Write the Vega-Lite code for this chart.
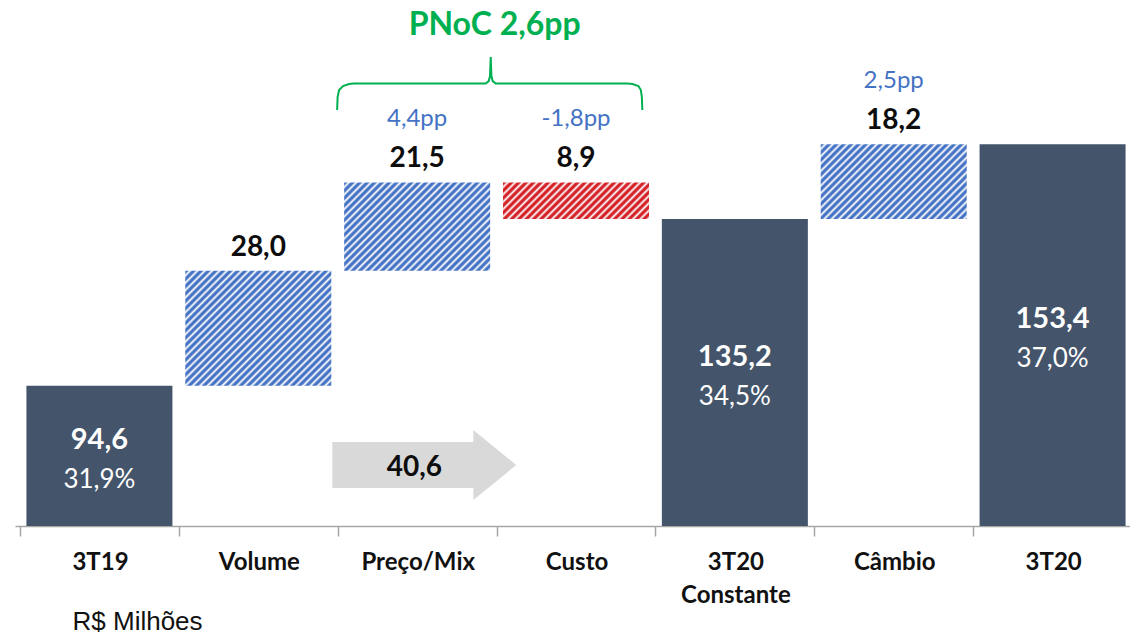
{
"$schema": "https://vega.github.io/schema/vega-lite/v6.json",
"width": 1122, "height": 526,
"autosize": {"type": "none"},
"padding": {"left": 15, "top": 0, "right": 0, "bottom": 109},
"background": "white",
"config": {"view": {"stroke": null}, "font": "Lato"},
"datasets": {
"bars": [
{"idx": 0, "cat": "3T19", "lo": 0, "hi": 94.6, "type": "total", "label": "94,6", "pct": "31,9%"},
{"idx": 1, "cat": "Volume", "lo": 94.6, "hi": 122.6, "type": "up", "label": "28,0", "pp": ""},
{"idx": 2, "cat": "Preço/Mix", "lo": 122.6, "hi": 144.1, "type": "up", "label": "21,5", "pp": "4,4pp"},
{"idx": 3, "cat": "Custo", "lo": 135.2, "hi": 144.1, "type": "down", "label": "8,9", "pp": "-1,8pp"},
{"idx": 4, "cat": "3T20 Constante", "lo": 0, "hi": 135.2, "type": "total", "label": "135,2", "pct": "34,5%"},
{"idx": 5, "cat": "Câmbio", "lo": 135.2, "hi": 153.4, "type": "up", "label": "18,2", "pp": "2,5pp"},
{"idx": 6, "cat": "3T20", "lo": 0, "hi": 153.4, "type": "total", "label": "153,4", "pct": "37,0%"}
],
"brace": [
{"x":1.4963,"y":161.72},{"x":1.4994,"y":164.88},{"x":1.5087,"y":166.58},{"x":1.5337,"y":167.56},{"x":1.5711,"y":168.04},{"x":1.6023,"y":168.17},{"x":2.432,"y":168.17},{"x":2.4507,"y":168.77},{"x":2.4588,"y":169.99},{"x":2.4632,"y":174.61},{"x":2.4675,"y":169.99},{"x":2.4757,"y":168.77},{"x":2.4944,"y":168.17},{"x":3.3241,"y":168.17},{"x":3.3553,"y":168.04},{"x":3.3927,"y":167.56},{"x":3.4083,"y":166.58},{"x":3.4145,"y":164.88},{"x":3.4177,"y":161.72}
],
"title": [{"t": "PNoC 2,6pp"}],
"arrow": [{"t": "40,6"}],
"unit": [{"t": "R$ Milhões"}]
},
"data": {"name": "bars"},
"resolve": {"scale": {"y": "independent"}},
"layer": [
{
"layer": [
{
"transform": [{"filter": "datum.type == 'total'"}],
"mark": {"type": "bar", "width": 146, "clip": true, "color": "#44546A"},
"encoding": {
"x": {"field": "idx", "type": "quantitative", "scale": {"domain": [-0.5, 6.5], "nice": false, "zero": false},
"axis": {"values": [-0.5, 0.5, 1.5, 2.5, 3.5, 4.5, 5.5, 6.5],
"labelExpr": "['3T19','Volume','Preço/Mix','Custo',['3T20','Constante'],'Câmbio','3T20',''][round(datum.value + 0.5)]",
"labelOffset": 80, "labelAlign": "center", "labelBaseline": "top", "labelPadding": 14,
"labelFont": "Lato", "labelFontSize": 24, "labelFontWeight": "bold", "labelColor": "#111111",
"labelLineHeight": 33, "labelOverlap": false, "labelFlush": false, "labelBound": false,
"tickSize": 10, "tickColor": "#A6A6A6", "tickWidth": 1.5,
"domainColor": "#A6A6A6", "domainWidth": 1.5, "grid": false, "title": null}},
"y": {"field": "hi", "type": "quantitative", "scale": {"domain": [60.5, 188.5], "nice": false, "zero": false}, "axis": null},
"y2": {"field": "lo"}
}
},
{
"transform": [{"filter": "datum.cat == 'Volume'"}],
"mark": {"type": "bar", "width": 146, "fill": {"gradient": "linear", "x1": 0, "y1": 0, "x2": 1.243, "y2": 0.9796, "stops": [{"offset":0,"color":"#4472C4"},{"offset":0.0075,"color":"#4472C4"},{"offset":0.01625,"color":"#fff"},{"offset":0.025,"color":"#4472C4"},{"offset":0.0325,"color":"#4472C4"},{"offset":0.04125,"color":"#fff"},{"offset":0.05,"color":"#4472C4"},{"offset":0.0575,"color":"#4472C4"},{"offset":0.06625,"color":"#fff"},{"offset":0.075,"color":"#4472C4"},{"offset":0.0825,"color":"#4472C4"},{"offset":0.09125,"color":"#fff"},{"offset":0.1,"color":"#4472C4"},{"offset":0.1075,"color":"#4472C4"},{"offset":0.11625,"color":"#fff"},{"offset":0.125,"color":"#4472C4"},{"offset":0.1325,"color":"#4472C4"},{"offset":0.14125,"color":"#fff"},{"offset":0.15,"color":"#4472C4"},{"offset":0.1575,"color":"#4472C4"},{"offset":0.16625,"color":"#fff"},{"offset":0.175,"color":"#4472C4"},{"offset":0.1825,"color":"#4472C4"},{"offset":0.19125,"color":"#fff"},{"offset":0.2,"color":"#4472C4"},{"offset":0.2075,"color":"#4472C4"},{"offset":0.21625,"color":"#fff"},{"offset":0.225,"color":"#4472C4"},{"offset":0.2325,"color":"#4472C4"},{"offset":0.24125,"color":"#fff"},{"offset":0.25,"color":"#4472C4"},{"offset":0.2575,"color":"#4472C4"},{"offset":0.26625,"color":"#fff"},{"offset":0.275,"color":"#4472C4"},{"offset":0.2825,"color":"#4472C4"},{"offset":0.29125,"color":"#fff"},{"offset":0.3,"color":"#4472C4"},{"offset":0.3075,"color":"#4472C4"},{"offset":0.31625,"color":"#fff"},{"offset":0.325,"color":"#4472C4"},{"offset":0.3325,"color":"#4472C4"},{"offset":0.34125,"color":"#fff"},{"offset":0.35,"color":"#4472C4"},{"offset":0.3575,"color":"#4472C4"},{"offset":0.36625,"color":"#fff"},{"offset":0.375,"color":"#4472C4"},{"offset":0.3825,"color":"#4472C4"},{"offset":0.39125,"color":"#fff"},{"offset":0.4,"color":"#4472C4"},{"offset":0.4075,"color":"#4472C4"},{"offset":0.41625,"color":"#fff"},{"offset":0.425,"color":"#4472C4"},{"offset":0.4325,"color":"#4472C4"},{"offset":0.44125,"color":"#fff"},{"offset":0.45,"color":"#4472C4"},{"offset":0.4575,"color":"#4472C4"},{"offset":0.46625,"color":"#fff"},{"offset":0.475,"color":"#4472C4"},{"offset":0.4825,"color":"#4472C4"},{"offset":0.49125,"color":"#fff"},{"offset":0.5,"color":"#4472C4"},{"offset":0.5075,"color":"#4472C4"},{"offset":0.51625,"color":"#fff"},{"offset":0.525,"color":"#4472C4"},{"offset":0.5325,"color":"#4472C4"},{"offset":0.54125,"color":"#fff"},{"offset":0.55,"color":"#4472C4"},{"offset":0.5575,"color":"#4472C4"},{"offset":0.56625,"color":"#fff"},{"offset":0.575,"color":"#4472C4"},{"offset":0.5825,"color":"#4472C4"},{"offset":0.59125,"color":"#fff"},{"offset":0.6,"color":"#4472C4"},{"offset":0.6075,"color":"#4472C4"},{"offset":0.61625,"color":"#fff"},{"offset":0.625,"color":"#4472C4"},{"offset":0.6325,"color":"#4472C4"},{"offset":0.64125,"color":"#fff"},{"offset":0.65,"color":"#4472C4"},{"offset":0.6575,"color":"#4472C4"},{"offset":0.66625,"color":"#fff"},{"offset":0.675,"color":"#4472C4"},{"offset":0.6825,"color":"#4472C4"},{"offset":0.69125,"color":"#fff"},{"offset":0.7,"color":"#4472C4"},{"offset":0.7075,"color":"#4472C4"},{"offset":0.71625,"color":"#fff"},{"offset":0.725,"color":"#4472C4"},{"offset":0.7325,"color":"#4472C4"},{"offset":0.74125,"color":"#fff"},{"offset":0.75,"color":"#4472C4"},{"offset":0.7575,"color":"#4472C4"},{"offset":0.76625,"color":"#fff"},{"offset":0.775,"color":"#4472C4"},{"offset":0.7825,"color":"#4472C4"},{"offset":0.79125,"color":"#fff"},{"offset":0.8,"color":"#4472C4"},{"offset":0.8075,"color":"#4472C4"},{"offset":0.81625,"color":"#fff"},{"offset":0.825,"color":"#4472C4"},{"offset":0.8325,"color":"#4472C4"},{"offset":0.84125,"color":"#fff"},{"offset":0.85,"color":"#4472C4"},{"offset":0.8575,"color":"#4472C4"},{"offset":0.86625,"color":"#fff"},{"offset":0.875,"color":"#4472C4"},{"offset":0.8825,"color":"#4472C4"},{"offset":0.89125,"color":"#fff"},{"offset":0.9,"color":"#4472C4"},{"offset":0.9075,"color":"#4472C4"},{"offset":0.91625,"color":"#fff"},{"offset":0.925,"color":"#4472C4"},{"offset":0.9325,"color":"#4472C4"},{"offset":0.94125,"color":"#fff"},{"offset":0.95,"color":"#4472C4"},{"offset":0.9575,"color":"#4472C4"},{"offset":0.96625,"color":"#fff"},{"offset":0.975,"color":"#4472C4"},{"offset":0.9825,"color":"#4472C4"},{"offset":0.99125,"color":"#fff"},{"offset":1,"color":"#4472C4"}]}},
"encoding": {"x": {"field": "idx", "type": "quantitative"}, "y": {"field": "hi", "type": "quantitative"}, "y2": {"field": "lo"}}
},
{
"transform": [{"filter": "datum.cat == 'Preço/Mix'"}],
"mark": {"type": "bar", "width": 146, "fill": {"gradient": "linear", "x1": 0, "y1": 0, "x2": 1.4749, "y2": 0.8925, "stops": [{"offset":0,"color":"#4472C4"},{"offset":0.0075,"color":"#4472C4"},{"offset":0.01625,"color":"#fff"},{"offset":0.025,"color":"#4472C4"},{"offset":0.0325,"color":"#4472C4"},{"offset":0.04125,"color":"#fff"},{"offset":0.05,"color":"#4472C4"},{"offset":0.0575,"color":"#4472C4"},{"offset":0.06625,"color":"#fff"},{"offset":0.075,"color":"#4472C4"},{"offset":0.0825,"color":"#4472C4"},{"offset":0.09125,"color":"#fff"},{"offset":0.1,"color":"#4472C4"},{"offset":0.1075,"color":"#4472C4"},{"offset":0.11625,"color":"#fff"},{"offset":0.125,"color":"#4472C4"},{"offset":0.1325,"color":"#4472C4"},{"offset":0.14125,"color":"#fff"},{"offset":0.15,"color":"#4472C4"},{"offset":0.1575,"color":"#4472C4"},{"offset":0.16625,"color":"#fff"},{"offset":0.175,"color":"#4472C4"},{"offset":0.1825,"color":"#4472C4"},{"offset":0.19125,"color":"#fff"},{"offset":0.2,"color":"#4472C4"},{"offset":0.2075,"color":"#4472C4"},{"offset":0.21625,"color":"#fff"},{"offset":0.225,"color":"#4472C4"},{"offset":0.2325,"color":"#4472C4"},{"offset":0.24125,"color":"#fff"},{"offset":0.25,"color":"#4472C4"},{"offset":0.2575,"color":"#4472C4"},{"offset":0.26625,"color":"#fff"},{"offset":0.275,"color":"#4472C4"},{"offset":0.2825,"color":"#4472C4"},{"offset":0.29125,"color":"#fff"},{"offset":0.3,"color":"#4472C4"},{"offset":0.3075,"color":"#4472C4"},{"offset":0.31625,"color":"#fff"},{"offset":0.325,"color":"#4472C4"},{"offset":0.3325,"color":"#4472C4"},{"offset":0.34125,"color":"#fff"},{"offset":0.35,"color":"#4472C4"},{"offset":0.3575,"color":"#4472C4"},{"offset":0.36625,"color":"#fff"},{"offset":0.375,"color":"#4472C4"},{"offset":0.3825,"color":"#4472C4"},{"offset":0.39125,"color":"#fff"},{"offset":0.4,"color":"#4472C4"},{"offset":0.4075,"color":"#4472C4"},{"offset":0.41625,"color":"#fff"},{"offset":0.425,"color":"#4472C4"},{"offset":0.4325,"color":"#4472C4"},{"offset":0.44125,"color":"#fff"},{"offset":0.45,"color":"#4472C4"},{"offset":0.4575,"color":"#4472C4"},{"offset":0.46625,"color":"#fff"},{"offset":0.475,"color":"#4472C4"},{"offset":0.4825,"color":"#4472C4"},{"offset":0.49125,"color":"#fff"},{"offset":0.5,"color":"#4472C4"},{"offset":0.5075,"color":"#4472C4"},{"offset":0.51625,"color":"#fff"},{"offset":0.525,"color":"#4472C4"},{"offset":0.5325,"color":"#4472C4"},{"offset":0.54125,"color":"#fff"},{"offset":0.55,"color":"#4472C4"},{"offset":0.5575,"color":"#4472C4"},{"offset":0.56625,"color":"#fff"},{"offset":0.575,"color":"#4472C4"},{"offset":0.5825,"color":"#4472C4"},{"offset":0.59125,"color":"#fff"},{"offset":0.6,"color":"#4472C4"},{"offset":0.6075,"color":"#4472C4"},{"offset":0.61625,"color":"#fff"},{"offset":0.625,"color":"#4472C4"},{"offset":0.6325,"color":"#4472C4"},{"offset":0.64125,"color":"#fff"},{"offset":0.65,"color":"#4472C4"},{"offset":0.6575,"color":"#4472C4"},{"offset":0.66625,"color":"#fff"},{"offset":0.675,"color":"#4472C4"},{"offset":0.6825,"color":"#4472C4"},{"offset":0.69125,"color":"#fff"},{"offset":0.7,"color":"#4472C4"},{"offset":0.7075,"color":"#4472C4"},{"offset":0.71625,"color":"#fff"},{"offset":0.725,"color":"#4472C4"},{"offset":0.7325,"color":"#4472C4"},{"offset":0.74125,"color":"#fff"},{"offset":0.75,"color":"#4472C4"},{"offset":0.7575,"color":"#4472C4"},{"offset":0.76625,"color":"#fff"},{"offset":0.775,"color":"#4472C4"},{"offset":0.7825,"color":"#4472C4"},{"offset":0.79125,"color":"#fff"},{"offset":0.8,"color":"#4472C4"},{"offset":0.8075,"color":"#4472C4"},{"offset":0.81625,"color":"#fff"},{"offset":0.825,"color":"#4472C4"},{"offset":0.8325,"color":"#4472C4"},{"offset":0.84125,"color":"#fff"},{"offset":0.85,"color":"#4472C4"},{"offset":0.8575,"color":"#4472C4"},{"offset":0.86625,"color":"#fff"},{"offset":0.875,"color":"#4472C4"},{"offset":0.8825,"color":"#4472C4"},{"offset":0.89125,"color":"#fff"},{"offset":0.9,"color":"#4472C4"},{"offset":0.9075,"color":"#4472C4"},{"offset":0.91625,"color":"#fff"},{"offset":0.925,"color":"#4472C4"},{"offset":0.9325,"color":"#4472C4"},{"offset":0.94125,"color":"#fff"},{"offset":0.95,"color":"#4472C4"},{"offset":0.9575,"color":"#4472C4"},{"offset":0.96625,"color":"#fff"},{"offset":0.975,"color":"#4472C4"},{"offset":0.9825,"color":"#4472C4"},{"offset":0.99125,"color":"#fff"},{"offset":1,"color":"#4472C4"}]}},
"encoding": {"x": {"field": "idx", "type": "quantitative"}, "y": {"field": "hi", "type": "quantitative"}, "y2": {"field": "lo"}}
},
{
"transform": [{"filter": "datum.cat == 'Custo'"}],
"mark": {"type": "bar", "width": 146, "fill": {"gradient": "linear", "x1": 0, "y1": 0, "x2": 1.8961, "y2": 0.4749, "stops": [{"offset":0,"color":"#D42027"},{"offset":0.0075,"color":"#D42027"},{"offset":0.01625,"color":"#fff"},{"offset":0.025,"color":"#D42027"},{"offset":0.0325,"color":"#D42027"},{"offset":0.04125,"color":"#fff"},{"offset":0.05,"color":"#D42027"},{"offset":0.0575,"color":"#D42027"},{"offset":0.06625,"color":"#fff"},{"offset":0.075,"color":"#D42027"},{"offset":0.0825,"color":"#D42027"},{"offset":0.09125,"color":"#fff"},{"offset":0.1,"color":"#D42027"},{"offset":0.1075,"color":"#D42027"},{"offset":0.11625,"color":"#fff"},{"offset":0.125,"color":"#D42027"},{"offset":0.1325,"color":"#D42027"},{"offset":0.14125,"color":"#fff"},{"offset":0.15,"color":"#D42027"},{"offset":0.1575,"color":"#D42027"},{"offset":0.16625,"color":"#fff"},{"offset":0.175,"color":"#D42027"},{"offset":0.1825,"color":"#D42027"},{"offset":0.19125,"color":"#fff"},{"offset":0.2,"color":"#D42027"},{"offset":0.2075,"color":"#D42027"},{"offset":0.21625,"color":"#fff"},{"offset":0.225,"color":"#D42027"},{"offset":0.2325,"color":"#D42027"},{"offset":0.24125,"color":"#fff"},{"offset":0.25,"color":"#D42027"},{"offset":0.2575,"color":"#D42027"},{"offset":0.26625,"color":"#fff"},{"offset":0.275,"color":"#D42027"},{"offset":0.2825,"color":"#D42027"},{"offset":0.29125,"color":"#fff"},{"offset":0.3,"color":"#D42027"},{"offset":0.3075,"color":"#D42027"},{"offset":0.31625,"color":"#fff"},{"offset":0.325,"color":"#D42027"},{"offset":0.3325,"color":"#D42027"},{"offset":0.34125,"color":"#fff"},{"offset":0.35,"color":"#D42027"},{"offset":0.3575,"color":"#D42027"},{"offset":0.36625,"color":"#fff"},{"offset":0.375,"color":"#D42027"},{"offset":0.3825,"color":"#D42027"},{"offset":0.39125,"color":"#fff"},{"offset":0.4,"color":"#D42027"},{"offset":0.4075,"color":"#D42027"},{"offset":0.41625,"color":"#fff"},{"offset":0.425,"color":"#D42027"},{"offset":0.4325,"color":"#D42027"},{"offset":0.44125,"color":"#fff"},{"offset":0.45,"color":"#D42027"},{"offset":0.4575,"color":"#D42027"},{"offset":0.46625,"color":"#fff"},{"offset":0.475,"color":"#D42027"},{"offset":0.4825,"color":"#D42027"},{"offset":0.49125,"color":"#fff"},{"offset":0.5,"color":"#D42027"},{"offset":0.5075,"color":"#D42027"},{"offset":0.51625,"color":"#fff"},{"offset":0.525,"color":"#D42027"},{"offset":0.5325,"color":"#D42027"},{"offset":0.54125,"color":"#fff"},{"offset":0.55,"color":"#D42027"},{"offset":0.5575,"color":"#D42027"},{"offset":0.56625,"color":"#fff"},{"offset":0.575,"color":"#D42027"},{"offset":0.5825,"color":"#D42027"},{"offset":0.59125,"color":"#fff"},{"offset":0.6,"color":"#D42027"},{"offset":0.6075,"color":"#D42027"},{"offset":0.61625,"color":"#fff"},{"offset":0.625,"color":"#D42027"},{"offset":0.6325,"color":"#D42027"},{"offset":0.64125,"color":"#fff"},{"offset":0.65,"color":"#D42027"},{"offset":0.6575,"color":"#D42027"},{"offset":0.66625,"color":"#fff"},{"offset":0.675,"color":"#D42027"},{"offset":0.6825,"color":"#D42027"},{"offset":0.69125,"color":"#fff"},{"offset":0.7,"color":"#D42027"},{"offset":0.7075,"color":"#D42027"},{"offset":0.71625,"color":"#fff"},{"offset":0.725,"color":"#D42027"},{"offset":0.7325,"color":"#D42027"},{"offset":0.74125,"color":"#fff"},{"offset":0.75,"color":"#D42027"},{"offset":0.7575,"color":"#D42027"},{"offset":0.76625,"color":"#fff"},{"offset":0.775,"color":"#D42027"},{"offset":0.7825,"color":"#D42027"},{"offset":0.79125,"color":"#fff"},{"offset":0.8,"color":"#D42027"},{"offset":0.8075,"color":"#D42027"},{"offset":0.81625,"color":"#fff"},{"offset":0.825,"color":"#D42027"},{"offset":0.8325,"color":"#D42027"},{"offset":0.84125,"color":"#fff"},{"offset":0.85,"color":"#D42027"},{"offset":0.8575,"color":"#D42027"},{"offset":0.86625,"color":"#fff"},{"offset":0.875,"color":"#D42027"},{"offset":0.8825,"color":"#D42027"},{"offset":0.89125,"color":"#fff"},{"offset":0.9,"color":"#D42027"},{"offset":0.9075,"color":"#D42027"},{"offset":0.91625,"color":"#fff"},{"offset":0.925,"color":"#D42027"},{"offset":0.9325,"color":"#D42027"},{"offset":0.94125,"color":"#fff"},{"offset":0.95,"color":"#D42027"},{"offset":0.9575,"color":"#D42027"},{"offset":0.96625,"color":"#fff"},{"offset":0.975,"color":"#D42027"},{"offset":0.9825,"color":"#D42027"},{"offset":0.99125,"color":"#fff"},{"offset":1,"color":"#D42027"}]}},
"encoding": {"x": {"field": "idx", "type": "quantitative"}, "y": {"field": "hi", "type": "quantitative"}, "y2": {"field": "lo"}}
},
{
"transform": [{"filter": "datum.cat == 'Câmbio'"}],
"mark": {"type": "bar", "width": 146, "fill": {"gradient": "linear", "x1": 0, "y1": 0, "x2": 1.5962, "y2": 0.8177, "stops": [{"offset":0,"color":"#4472C4"},{"offset":0.0075,"color":"#4472C4"},{"offset":0.01625,"color":"#fff"},{"offset":0.025,"color":"#4472C4"},{"offset":0.0325,"color":"#4472C4"},{"offset":0.04125,"color":"#fff"},{"offset":0.05,"color":"#4472C4"},{"offset":0.0575,"color":"#4472C4"},{"offset":0.06625,"color":"#fff"},{"offset":0.075,"color":"#4472C4"},{"offset":0.0825,"color":"#4472C4"},{"offset":0.09125,"color":"#fff"},{"offset":0.1,"color":"#4472C4"},{"offset":0.1075,"color":"#4472C4"},{"offset":0.11625,"color":"#fff"},{"offset":0.125,"color":"#4472C4"},{"offset":0.1325,"color":"#4472C4"},{"offset":0.14125,"color":"#fff"},{"offset":0.15,"color":"#4472C4"},{"offset":0.1575,"color":"#4472C4"},{"offset":0.16625,"color":"#fff"},{"offset":0.175,"color":"#4472C4"},{"offset":0.1825,"color":"#4472C4"},{"offset":0.19125,"color":"#fff"},{"offset":0.2,"color":"#4472C4"},{"offset":0.2075,"color":"#4472C4"},{"offset":0.21625,"color":"#fff"},{"offset":0.225,"color":"#4472C4"},{"offset":0.2325,"color":"#4472C4"},{"offset":0.24125,"color":"#fff"},{"offset":0.25,"color":"#4472C4"},{"offset":0.2575,"color":"#4472C4"},{"offset":0.26625,"color":"#fff"},{"offset":0.275,"color":"#4472C4"},{"offset":0.2825,"color":"#4472C4"},{"offset":0.29125,"color":"#fff"},{"offset":0.3,"color":"#4472C4"},{"offset":0.3075,"color":"#4472C4"},{"offset":0.31625,"color":"#fff"},{"offset":0.325,"color":"#4472C4"},{"offset":0.3325,"color":"#4472C4"},{"offset":0.34125,"color":"#fff"},{"offset":0.35,"color":"#4472C4"},{"offset":0.3575,"color":"#4472C4"},{"offset":0.36625,"color":"#fff"},{"offset":0.375,"color":"#4472C4"},{"offset":0.3825,"color":"#4472C4"},{"offset":0.39125,"color":"#fff"},{"offset":0.4,"color":"#4472C4"},{"offset":0.4075,"color":"#4472C4"},{"offset":0.41625,"color":"#fff"},{"offset":0.425,"color":"#4472C4"},{"offset":0.4325,"color":"#4472C4"},{"offset":0.44125,"color":"#fff"},{"offset":0.45,"color":"#4472C4"},{"offset":0.4575,"color":"#4472C4"},{"offset":0.46625,"color":"#fff"},{"offset":0.475,"color":"#4472C4"},{"offset":0.4825,"color":"#4472C4"},{"offset":0.49125,"color":"#fff"},{"offset":0.5,"color":"#4472C4"},{"offset":0.5075,"color":"#4472C4"},{"offset":0.51625,"color":"#fff"},{"offset":0.525,"color":"#4472C4"},{"offset":0.5325,"color":"#4472C4"},{"offset":0.54125,"color":"#fff"},{"offset":0.55,"color":"#4472C4"},{"offset":0.5575,"color":"#4472C4"},{"offset":0.56625,"color":"#fff"},{"offset":0.575,"color":"#4472C4"},{"offset":0.5825,"color":"#4472C4"},{"offset":0.59125,"color":"#fff"},{"offset":0.6,"color":"#4472C4"},{"offset":0.6075,"color":"#4472C4"},{"offset":0.61625,"color":"#fff"},{"offset":0.625,"color":"#4472C4"},{"offset":0.6325,"color":"#4472C4"},{"offset":0.64125,"color":"#fff"},{"offset":0.65,"color":"#4472C4"},{"offset":0.6575,"color":"#4472C4"},{"offset":0.66625,"color":"#fff"},{"offset":0.675,"color":"#4472C4"},{"offset":0.6825,"color":"#4472C4"},{"offset":0.69125,"color":"#fff"},{"offset":0.7,"color":"#4472C4"},{"offset":0.7075,"color":"#4472C4"},{"offset":0.71625,"color":"#fff"},{"offset":0.725,"color":"#4472C4"},{"offset":0.7325,"color":"#4472C4"},{"offset":0.74125,"color":"#fff"},{"offset":0.75,"color":"#4472C4"},{"offset":0.7575,"color":"#4472C4"},{"offset":0.76625,"color":"#fff"},{"offset":0.775,"color":"#4472C4"},{"offset":0.7825,"color":"#4472C4"},{"offset":0.79125,"color":"#fff"},{"offset":0.8,"color":"#4472C4"},{"offset":0.8075,"color":"#4472C4"},{"offset":0.81625,"color":"#fff"},{"offset":0.825,"color":"#4472C4"},{"offset":0.8325,"color":"#4472C4"},{"offset":0.84125,"color":"#fff"},{"offset":0.85,"color":"#4472C4"},{"offset":0.8575,"color":"#4472C4"},{"offset":0.86625,"color":"#fff"},{"offset":0.875,"color":"#4472C4"},{"offset":0.8825,"color":"#4472C4"},{"offset":0.89125,"color":"#fff"},{"offset":0.9,"color":"#4472C4"},{"offset":0.9075,"color":"#4472C4"},{"offset":0.91625,"color":"#fff"},{"offset":0.925,"color":"#4472C4"},{"offset":0.9325,"color":"#4472C4"},{"offset":0.94125,"color":"#fff"},{"offset":0.95,"color":"#4472C4"},{"offset":0.9575,"color":"#4472C4"},{"offset":0.96625,"color":"#fff"},{"offset":0.975,"color":"#4472C4"},{"offset":0.9825,"color":"#4472C4"},{"offset":0.99125,"color":"#fff"},{"offset":1,"color":"#4472C4"}]}},
"encoding": {"x": {"field": "idx", "type": "quantitative"}, "y": {"field": "hi", "type": "quantitative"}, "y2": {"field": "lo"}}
},
{
"transform": [{"filter": "datum.type != 'total'"}],
"mark": {"type": "text", "font": "Lato", "fontSize": 28, "fontWeight": "bold", "color": "#0D0D0D", "baseline": "middle", "dy": -23},
"encoding": {"x": {"field": "idx", "type": "quantitative"}, "y": {"field": "hi", "type": "quantitative"}, "text": {"field": "label"}}
},
{
"transform": [{"filter": "datum.type != 'total'"}],
"mark": {"type": "text", "font": "Lato", "fontSize": 24, "color": "#4472C4", "baseline": "middle", "dy": -63},
"encoding": {"x": {"field": "idx", "type": "quantitative"}, "y": {"field": "hi", "type": "quantitative"}, "text": {"field": "pp"}}
},
{
"data": {"name": "brace"},
"mark": {"type": "line", "color": "#00B050", "strokeWidth": 2},
"encoding": {"x": {"field": "x", "type": "quantitative"}, "y": {"field": "y", "type": "quantitative"}}
},
{
"data": {"name": "title"},
"mark": {"type": "text", "font": "Lato", "fontSize": 32, "fontWeight": "bold", "color": "#00B050", "baseline": "middle", "align": "center"},
"encoding": {"x": {"datum": 2.488}, "y": {"datum": 182.4}, "text": {"field": "t"}}
},
{
"data": {"name": "arrow"},
"mark": {"type": "point", "shape": "M-1,-0.25L0.533,-0.25L0.533,-0.38L1,0L0.533,0.38L0.533,0.25L-1,0.25Z", "size": 33856, "filled": true, "color": "#D9D9D9", "opacity": 1, "strokeWidth": 0},
"encoding": {"x": {"datum": 2.045}, "y": {"datum": 75.34}}
},
{
"data": {"name": "arrow"},
"mark": {"type": "text", "font": "Lato", "fontSize": 28, "fontWeight": "bold", "color": "#0D0D0D", "baseline": "middle", "align": "center"},
"encoding": {"x": {"datum": 1.983}, "y": {"datum": 74.61}, "text": {"field": "t"}}
},
{
"data": {"name": "unit"},
"mark": {"type": "text", "font": "Liberation Sans", "fontSize": 26, "color": "#111111", "baseline": "middle", "align": "left"},
"encoding": {"x": {"datum": -0.1694}, "y": {"datum": 37.14}, "text": {"field": "t"}}
}
]
},
{
"transform": [{"filter": "datum.type == 'total'"}],
"encoding": {
"x": {"field": "idx", "type": "quantitative"},
"y": {"field": "hi", "type": "quantitative", "scale": {"domain": [60.5, 316.5], "nice": false, "zero": false}, "axis": null}
},
"layer": [
{"mark": {"type": "text", "font": "Lato", "fontSize": 29, "fontWeight": "bold", "color": "#FFFFFF", "baseline": "middle", "dy": -16}, "encoding": {"text": {"field": "label"}}},
{"mark": {"type": "text", "font": "Lato", "fontSize": 26, "color": "#FFFFFF", "baseline": "middle", "dy": 24}, "encoding": {"text": {"field": "pct"}}}
]
}
]
}
